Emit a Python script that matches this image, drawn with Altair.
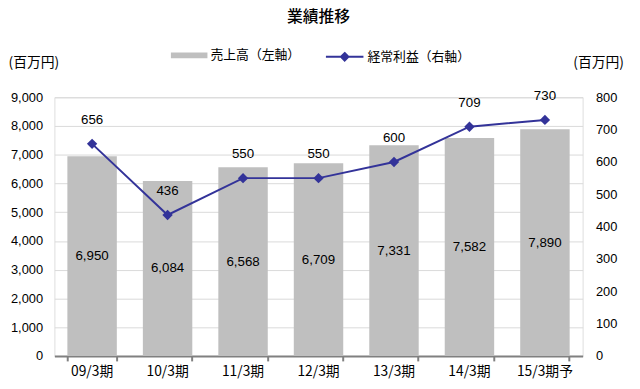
import altair as alt
import pandas as pd

categories = ["09/3期", "10/3期", "11/3期", "12/3期", "13/3期", "14/3期", "15/3期予"]
sales = [6950, 6084, 6568, 6709, 7331, 7582, 7890]
profit = [656, 436, 550, 550, 600, 709, 730]

sales_name = "売上高（左軸）"
profit_name = "経常利益（右軸）"
unit_label = "(百万円)"

df = pd.DataFrame({
    "cat": categories,
    "sales": sales,
    "profit": profit,
    "s_name": [sales_name] * len(categories),
    "p_name": [profit_name] * len(categories),
})

CJK = "Noto Sans CJK JP"
NUM = "Liberation Sans"

x_axis = alt.Axis(labelAngle=0, bandPosition=1, tickExtra=True,
                  domainColor="#808080", domainWidth=2,
                  tickColor="#808080", tickWidth=2, tickSize=5,
                  labelFont=CJK, labelFontSize=14, labelColor="#000000",
                  labelPadding=4, grid=False)
x_scale = alt.Scale(paddingInner=0.345, paddingOuter=0.172)
x = alt.X("cat:N", sort=categories, title=None, scale=x_scale, axis=x_axis)

left_scale = alt.Scale(domain=[0, 9000], nice=False)
right_scale = alt.Scale(domain=[0, 800], nice=False)

left_axis = alt.Axis(values=list(range(0, 9001, 1000)), format=",d",
                     labelOverlap=False,
                     domain=False, ticks=False, labelPadding=12,
                     labelFont=NUM, labelFontSize=13, labelColor="#000000",
                     gridColor="#D9D9D9", gridWidth=1,
                     titleAngle=0, titleX=-47, titleY=-35,
                     titleAlign="left", titleBaseline="middle",
                     titleFont=CJK, titleFontSize=14, titleFontWeight="normal",
                     titleColor="#000000")
right_axis = alt.Axis(orient="right", values=list(range(0, 801, 100)), format="d",
                      labelOverlap=False,
                      domain=False, ticks=False, grid=False, labelPadding=13,
                      labelFont=NUM, labelFontSize=13, labelColor="#000000",
                      titleAngle=0, titleX=-10, titleY=-35,
                      titleAlign="left", titleBaseline="middle",
                      titleFont=CJK, titleFontSize=14, titleFontWeight="normal",
                      titleColor="#000000")

base = alt.Chart(df)

bars = base.mark_bar().encode(
    x=x,
    y=alt.Y("sales:Q", scale=left_scale, title=unit_label, axis=left_axis),
    color=alt.Color("s_name:N",
                    scale=alt.Scale(domain=[sales_name], range=["#BFBFBF"]),
                    legend=alt.Legend(title=None, orient="none", legendX=118, legendY=-61,
                                      symbolType="M-1,-0.16L1,-0.16L1,0.16L-1,0.16Z",
                                      symbolSize=1369, symbolStrokeWidth=0,
                                      symbolOpacity=1,
                                      labelFont=CJK, labelFontSize=13, labelColor="#000000",
                                      labelOffset=3, padding=0)),
)

bar_text = base.transform_calculate(half="datum.sales / 2").mark_text(
    font=NUM, fontSize=13.5, color="#000000", baseline="middle"
).encode(
    x=x,
    y=alt.Y("half:Q", scale=left_scale, title=unit_label, axis=left_axis),
    text=alt.Text("sales:Q", format=",d"),
)

left = alt.layer(bars, bar_text)

line = base.mark_line(color="#333399", strokeWidth=2).encode(
    x=x,
    y=alt.Y("profit:Q", scale=right_scale, title=unit_label, axis=right_axis),
)

points = base.mark_point(filled=True, shape="diamond", size=110, opacity=1).encode(
    x=x,
    y=alt.Y("profit:Q", scale=right_scale, title=unit_label, axis=right_axis),
    color=alt.Color("p_name:N",
                    scale=alt.Scale(domain=[profit_name], range=["#333399"]),
                    legend=alt.Legend(title=None, orient="none", legendX=274, legendY=-61,
                                      symbolType="M-1,0L1,0M0,-0.2L0.2,0L0,0.2L-0.2,0Z",
                                      symbolSize=1444, symbolStrokeWidth=2,
                                      symbolStrokeColor="#333399",
                                      symbolFillColor="#333399", symbolOpacity=1,
                                      labelFont=CJK, labelFontSize=13, labelColor="#000000",
                                      labelOffset=3, padding=0)),
)

point_text = base.mark_text(
    font=NUM, fontSize=13.5, color="#000000", baseline="middle", dy=-24
).encode(
    x=x,
    y=alt.Y("profit:Q", scale=right_scale, title=unit_label, axis=right_axis),
    text=alt.Text("profit:Q", format="d"),
)

right = alt.layer(line, points, point_text)

chart = alt.layer(left, right).resolve_scale(
    y="independent", color="independent"
).resolve_legend(color="independent").properties(
    width=535, height=262,
    title=alt.TitleParams("業績推移", font=CJK, fontSize=16, fontWeight=500,
                          color="#000000", anchor="middle", offset=12),
    autosize=alt.AutoSizeParams(type="none"),
    padding={"left": 47, "top": 88, "right": 50, "bottom": 30},
).configure_view(stroke=None).configure(background="#ffffff")

chart.save("out.html", embed_options={"renderer": "svg", "actions": False})
